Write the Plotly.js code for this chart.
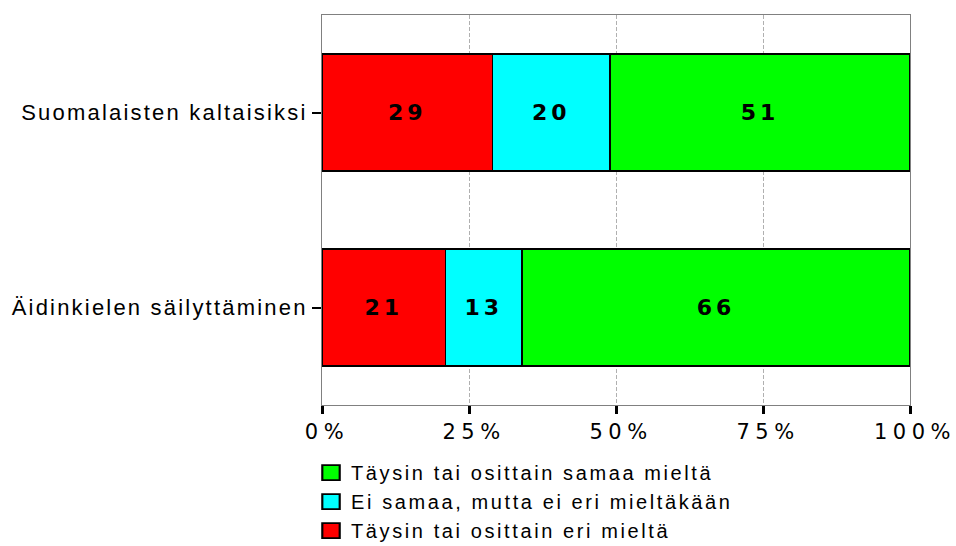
<!DOCTYPE html>
<html>
<head>
<meta charset="utf-8">
<script src="https://cdn.plot.ly/plotly-3.0.1.min.js"></script>
<style>
html,body{margin:0;padding:0;background:#fff;}
#chart{width:956px;height:546px;}
.ytick text{letter-spacing:2.2px;}
.xtick text{letter-spacing:5.5px;}
.legendtext{letter-spacing:2.6px;}
.bartext{letter-spacing:4px;}
</style>
</head>
<body>
<div id="chart"></div>
<script>
const categories = ['Äidinkielen säilyttäminen', 'Suomalaisten kaltaisiksi'];
const seriesNames = ['Täysin tai osittain eri mieltä', 'Ei samaa, mutta ei eri mieltäkään', 'Täysin tai osittain samaa mieltä'];
const disagree = [21, 29];
const neutral = [13, 20];
const agree = [66, 51];
const colors = ['#FF0000', '#00FFFF', '#00FF00'];
const xTicks = [0, 25, 50, 75, 100];
const xTickLabels = ['0%', '25%', '50%', '75%', '100%'];

const seriesValues = [disagree, neutral, agree];
const traces = seriesValues.map((vals, i) => ({
  type: 'bar',
  orientation: 'h',
  name: seriesNames[i],
  y: categories,
  x: vals,
  text: vals.map(String),
  texttemplate: '%{text}',
  textposition: 'inside',
  insidetextanchor: 'middle',
  textangle: 0,
  constraintext: 'none',
  textfont: {family: 'DejaVu Sans, Liberation Sans, sans-serif', size: 22, color: '#000', weight: 'bold'},
  marker: {color: colors[i], line: {color: '#000', width: 1.5}},
  hoverinfo: 'none'
}));

const layout = {
  width: 956,
  height: 546,
  margin: {l: 322, r: 46, t: 15, b: 141},
  paper_bgcolor: '#fff',
  plot_bgcolor: '#fff',
  barmode: 'stack',
  bargap: 0.4,
  showlegend: true,
  font: {family: 'Liberation Sans, Arial, sans-serif', size: 20, color: '#000'},
  xaxis: {
    range: [0, 100],
    tickvals: xTicks,
    ticktext: xTickLabels,
    ticks: 'outside',
    ticklen: 8,
    tickwidth: 3,
    tickcolor: '#000',
    showgrid: true,
    gridcolor: '#b0b0b0',
    griddash: '4px,2px',
    gridwidth: 1,
    zeroline: false,
    showline: true,
    linecolor: '#808080',
    linewidth: 1,
    mirror: true,
    tickfont: {family: 'DejaVu Sans, Liberation Sans, sans-serif', size: 21},
    ticklabelshift: 5,
    ticklabeloverflow: 'allow',
    automargin: false,
    fixedrange: true
  },
  yaxis: {
    categoryorder: 'array',
    categoryarray: categories,
    ticks: 'outside',
    ticklen: 9,
    tickwidth: 2,
    tickcolor: '#000',
    showgrid: false,
    zeroline: false,
    showline: true,
    linecolor: '#808080',
    linewidth: 1,
    mirror: true,
    tickfont: {size: 22},
    ticklabelstandoff: 0,
    automargin: false,
    fixedrange: true
  },
  legend: {
    orientation: 'v',
    x: -0.0187,
    xanchor: 'left',
    yref: 'container',
    y: 0.170,
    yanchor: 'top',
    traceorder: 'reversed',
    font: {size: 20},
    tracegroupgap: 0,
    itemwidth: 30,
    bgcolor: 'rgba(0,0,0,0)'
  }
};

Plotly.newPlot('chart', traces, layout, {displayModeBar: false, staticPlot: true}).then(gd => {
  gd.querySelectorAll('.legend .legendpoints path').forEach(p => {
    const t = p.getAttribute('transform') || '';
    p.setAttribute('transform', (t + ' scale(1.45,1.25)').trim());
  });
});
</script>
</body>
</html>
